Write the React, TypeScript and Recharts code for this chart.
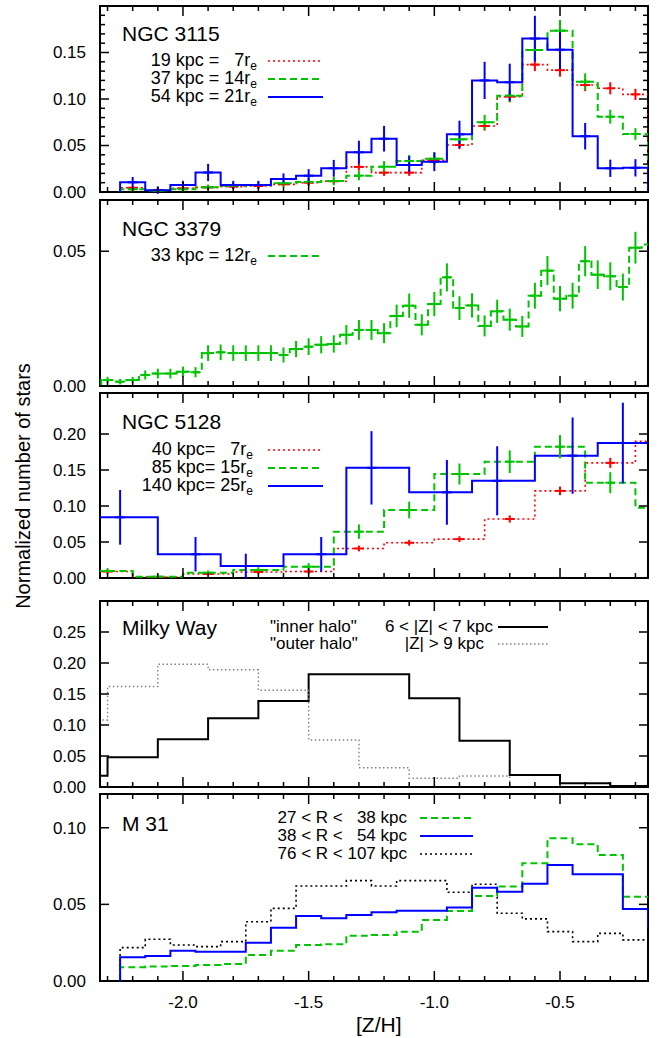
import React from "react";
import { ComposedChart, Line, Scatter, ErrorBar, XAxis, YAxis, ReferenceArea } from "recharts";

// ---- data ----
const X_TICKS = [-2.3, -2.2, -2.1, -2.0, -1.9, -1.8, -1.7, -1.6, -1.5, -1.4, -1.3, -1.2, -1.1, -1.0, -0.9, -0.8, -0.7, -0.6, -0.5, -0.4, -0.3, -0.2];
const X_MAJOR = [-2.0, -1.5, -1.0, -0.5];

// NGC 3115, bins of 0.1
const N3115_Z = [-2.2, -2.1, -2.0, -1.9, -1.8, -1.7, -1.6, -1.5, -1.4, -1.3, -1.2, -1.1, -1.0, -0.9, -0.8, -0.7, -0.6, -0.5, -0.4, -0.3, -0.2];
const N3115_19 = [0.0046, 0.0022, 0.004, 0.005, 0.0057, 0.0064, 0.0082, 0.01, 0.0115, 0.027, 0.0208, 0.0208, 0.034, 0.0505, 0.071, 0.1025, 0.137, 0.131, 0.115, 0.1115, 0.105];
const N3115_19_ERR = [0.002, 0.0015, 0.002, 0.002, 0.002, 0.002, 0.0025, 0.003, 0.003, 0.004, 0.0035, 0.0035, 0.004, 0.0045, 0.005, 0.006, 0.007, 0.007, 0.0065, 0.0065, 0.006];
const N3115_37 = [0.003, 0.0015, 0.003, 0.005, 0.0068, 0.0075, 0.0093, 0.0108, 0.0118, 0.0176, 0.0272, 0.0333, 0.0358, 0.0566, 0.075, 0.1036, 0.1527, 0.1735, 0.1186, 0.081, 0.0624];
const N3115_37_ERR = [0.003, 0.002, 0.003, 0.003, 0.0035, 0.0035, 0.004, 0.004, 0.0045, 0.005, 0.006, 0.0065, 0.0065, 0.007, 0.008, 0.007, 0.011, 0.0116, 0.009, 0.0075, 0.0063];
const N3115_54 = [0.0104, 0.002, 0.0075, 0.021, 0.0075, 0.0075, 0.014, 0.0176, 0.0255, 0.0427, 0.0573, 0.029, 0.0326, 0.062, 0.12, 0.118, 0.165, 0.153, 0.06, 0.0255, 0.026];
const N3115_54_ERR = [0.0057, 0.004, 0.0045, 0.0093, 0.0045, 0.0045, 0.006, 0.007, 0.009, 0.0124, 0.0138, 0.0097, 0.0102, 0.0147, 0.02, 0.02, 0.0245, 0.021, 0.0143, 0.0093, 0.0093];

// NGC 3379, bins of 0.05
const N3379_Z = [-2.3, -2.25, -2.2, -2.15, -2.1, -2.05, -2.0, -1.95, -1.9, -1.85, -1.8, -1.75, -1.7, -1.65, -1.6, -1.55, -1.5, -1.45, -1.4, -1.35, -1.3, -1.25, -1.2, -1.15, -1.1, -1.05, -1.0, -0.95, -0.9, -0.85, -0.8, -0.75, -0.7, -0.65, -0.6, -0.55, -0.5, -0.45, -0.4, -0.35, -0.3, -0.25, -0.2, -0.15];
const N3379_33 = [0.0022, 0.0016, 0.0022, 0.0041, 0.0046, 0.0046, 0.0053, 0.0051, 0.0122, 0.0125, 0.0122, 0.0122, 0.0122, 0.0122, 0.0115, 0.0137, 0.0146, 0.0153, 0.0156, 0.019, 0.0208, 0.0208, 0.0196, 0.026, 0.0298, 0.0227, 0.0304, 0.0403, 0.0289, 0.0299, 0.0223, 0.0277, 0.0246, 0.0221, 0.0335, 0.0428, 0.0324, 0.0335, 0.0463, 0.0413, 0.0407, 0.0367, 0.0513, 0.0525];
const N3379_33_ERR = [0.0012, 0.001, 0.0012, 0.0017, 0.0018, 0.0018, 0.0019, 0.0019, 0.0029, 0.0029, 0.0029, 0.0029, 0.0029, 0.0029, 0.0028, 0.003, 0.0031, 0.0032, 0.0032, 0.0036, 0.0037, 0.0037, 0.0037, 0.0042, 0.0045, 0.0039, 0.0045, 0.0052, 0.0044, 0.0045, 0.0039, 0.0043, 0.0041, 0.0039, 0.0048, 0.0054, 0.0047, 0.0048, 0.0056, 0.0053, 0.0052, 0.005, 0.0059, 0.006];

// NGC 5128, bins of 0.2 (blue: 0.25)
const N5128_Z = [-2.3, -2.1, -1.9, -1.7, -1.5, -1.3, -1.1, -0.9, -0.7, -0.5, -0.3, -0.1];
const N5128_40 = [0.009, 0.0014, 0.0056, 0.0083, 0.009, 0.041, 0.049, 0.054, 0.082, 0.121, 0.16, 0.19];
const N5128_40_ERR = [0.003, 0.001, 0.002, 0.0025, 0.003, 0.004, 0.004, 0.004, 0.005, 0.006, 0.007, 0.008];
const N5128_85 = [0.0097, 0.0019, 0.0074, 0.011, 0.0157, 0.0644, 0.0944, 0.1444, 0.1616, 0.1824, 0.1324, 0.0977];
const N5128_85_ERR = [0.004, 0.002, 0.003, 0.004, 0.005, 0.01, 0.0116, 0.0146, 0.0157, 0.0162, 0.0146, 0.012];
const N5128_140_EDGES = [-2.35, -2.1, -1.85, -1.6, -1.35, -1.1, -0.85, -0.6, -0.35, -0.1];
const N5128_140_Z = [-2.25, -1.95, -1.75, -1.45, -1.25, -0.95, -0.75, -0.45, -0.25];
const N5128_140 = [0.0843, 0.033, 0.0167, 0.033, 0.153, 0.119, 0.135, 0.17, 0.1875];
const N5128_140_ERR = [0.038, 0.024, 0.017, 0.024, 0.051, 0.045, 0.048, 0.053, 0.056];

// Milky Way, bins of 0.2
const MW_Z = [-2.4, -2.2, -2.0, -1.8, -1.6, -1.4, -1.2, -1.0, -0.8, -0.6, -0.4, -0.2];
const MW_INNER = [0.018, 0.048, 0.077, 0.111, 0.1387, 0.1817, 0.1817, 0.143, 0.0747, 0.0194, 0.006, 0.0016];
const MW_OUTER = [0.108, 0.162, 0.198, 0.189, 0.156, 0.0758, 0.031, 0.014, 0.0177];

// M 31, bins of 0.1
const M31_Z = [-2.2, -2.1, -2.0, -1.9, -1.8, -1.7, -1.6, -1.5, -1.4, -1.3, -1.2, -1.1, -1.0, -0.9, -0.8, -0.7, -0.6, -0.5, -0.4, -0.3, -0.2, -0.1];
const M31_27 = [0.009, 0.0094, 0.0098, 0.0104, 0.0111, 0.017, 0.0198, 0.0235, 0.024, 0.0296, 0.03, 0.0322, 0.0398, 0.0457, 0.0555, 0.0616, 0.0768, 0.0931, 0.0892, 0.0822, 0.055, 0.055];
const M31_38 = [0.0155, 0.0163, 0.0198, 0.0191, 0.0191, 0.025, 0.0348, 0.0424, 0.0409, 0.043, 0.0448, 0.0459, 0.0459, 0.0479, 0.0609, 0.0583, 0.0635, 0.0757, 0.0696, 0.0696, 0.047, 0.0354];
const M31_76 = [0.0218, 0.0272, 0.0235, 0.0224, 0.0257, 0.0387, 0.0474, 0.062, 0.062, 0.0655, 0.062, 0.0655, 0.0655, 0.0579, 0.0631, 0.0442, 0.0405, 0.0322, 0.0257, 0.0311, 0.0268, 0.017];

// ---- layout ----
const W = 662;
const XMIN = -2.33;
const XMAX = -0.15;
const PL = 100;
const PR = 648;
const PAD = 4;
const YAXIS_W = 60;
const FONT = '"Liberation Sans", Arial, Helvetica, sans-serif';

const RED = "#ff0000";
const GREEN = "#00c400";
const BLUE = "#0000ff";
const DOTS = "2 3";
const DASH = "7 4";

const edgesOf = (centers: number[], w: number) => [
    ...centers.map((c) => c - w / 2),
    centers[centers.length - 1] + w / 2,
];

// histogram outline for a stepAfter line
const steps = (edges: number[], vals: number[]) => {
    const pts = [{ x: edges[0], y: 0 }];
    vals.forEach((v, i) => pts.push({ x: edges[i], y: v }));
    pts.push({ x: edges[vals.length], y: 0 });
    return pts;
};

const bars = (xs: number[], vals: number[], err: number[]) =>
    xs
        .map((x, i) => ({ x, y: vals[i], e: err[i] }))
        .filter((p) => p.x > XMIN + 1e-6 && p.x < XMAX - 1e-6);

interface Series {
    color: string;
    width: number;
    dash?: string;
    edges: number[];
    vals: number[];
    errX?: number[];
    err?: number[];
}

const near = (list: number[], v: number) => list.some((m) => Math.abs(m - v) < 1e-6);

function Panel({ top, h, ymax, yTicks, yMajor, series, xLabels }: {
    top: number; h: number; ymax: number; yTicks: number[]; yMajor: number[]; series: Series[]; xLabels?: boolean;
}) {
    // room under the frame: tick labels on the last panel, half a label elsewhere
    const xAxisH = xLabels ? 46 : 14;
    const bottom = PAD + h;

    const yTick = (p: any) => {
        const v = p.payload.value;
        const major = near(yMajor, v);
        const len = major ? 9 : 5;
        return (
            <g>
                <line x1={PL} x2={PL + len} y1={p.y} y2={p.y} stroke="#000" strokeWidth={1.5} />
                <line x1={PR - len} x2={PR} y1={p.y} y2={p.y} stroke="#000" strokeWidth={1.5} />
                {major && (
                    <text x={PL - 14} y={p.y} dy="0.35em" textAnchor="end" fontSize={17} fontFamily={FONT} fill="#000">
                        {v.toFixed(2)}
                    </text>
                )}
            </g>
        );
    };

    const xTick = (p: any) => {
        const v = p.payload.value;
        const major = near(X_MAJOR, v);
        const len = major ? 10 : 5;
        return (
            <g>
                <line x1={p.x} x2={p.x} y1={PAD} y2={PAD + len} stroke="#000" strokeWidth={1.5} />
                <line x1={p.x} x2={p.x} y1={bottom - len} y2={bottom} stroke="#000" strokeWidth={1.5} />
                {xLabels && major && (
                    <text x={p.x} y={bottom + 21} dy="0.35em" textAnchor="middle" fontSize={17} fontFamily={FONT} fill="#000">
                        {v.toFixed(1)}
                    </text>
                )}
            </g>
        );
    };

    return (
        <div style={{ position: "absolute", left: 0, top: top - PAD }}>
            <ComposedChart
                width={W}
                height={h + PAD + xAxisH}
                margin={{ top: PAD, right: W - PR, bottom: 0, left: PL - YAXIS_W }}
            >
                <XAxis
                    dataKey="x"
                    type="number"
                    domain={[XMIN, XMAX]}
                    allowDataOverflow
                    ticks={X_TICKS}
                    interval={0}
                    height={xAxisH}
                    axisLine={false}
                    tickLine={false}
                    tick={xTick}
                />
                <YAxis
                    dataKey="y"
                    type="number"
                    domain={[0, ymax]}
                    allowDataOverflow
                    ticks={yTicks}
                    interval={0}
                    width={YAXIS_W}
                    axisLine={false}
                    tickLine={false}
                    tick={yTick}
                />
                {series.map((s, i) => (
                    <Line
                        key={"l" + i}
                        data={steps(s.edges, s.vals)}
                        dataKey="y"
                        type="stepAfter"
                        stroke={s.color}
                        strokeWidth={s.width}
                        strokeDasharray={s.dash}
                        dot={false}
                        activeDot={false}
                        isAnimationActive={false}
                    />
                ))}
                {series.map((s, i) =>
                    s.err && s.errX ? (
                        <Scatter
                            key={"s" + i}
                            data={bars(s.errX, s.vals, s.err)}
                            dataKey="y"
                            isAnimationActive={false}
                            shape={(p: any) => (
                                <path d={`M${p.cx - 5},${p.cy}H${p.cx + 5}`} stroke={s.color} strokeWidth={2} />
                            )}
                        >
                            <ErrorBar dataKey="e" direction="y" width={0} stroke={s.color} strokeWidth={2} />
                        </Scatter>
                    ) : null
                )}
                <ReferenceArea x1={XMIN} x2={XMAX} y1={0} y2={ymax} fill="none" stroke="#000" strokeWidth={2} />
            </ComposedChart>
        </div>
    );
}

const Txt = ({ x, y, size, end, children }: { x: number; y: number; size: number; end?: boolean; children: React.ReactNode }) => (
    <div
        style={{
            position: "absolute",
            left: x,
            top: y - size * 0.42,
            fontSize: size,
            lineHeight: `${Math.round(size * 0.85)}px`,
            whiteSpace: "pre",
            transform: end ? "translateX(-100%)" : undefined,
            fontFamily: FONT,
            color: "#000",
        }}
    >
        {children}
    </div>
);

const Sub = ({ children }: { children: React.ReactNode }) => (
    <span style={{ fontSize: 12, position: "relative", top: 4, lineHeight: "8px" }}>{children}</span>
);

const Sample = ({ x1, x2, y, color, dash, width }: { x1: number; x2: number; y: number; color: string; dash?: string; width: number }) => (
    <svg style={{ position: "absolute", left: x1, top: y - 3 }} width={x2 - x1} height={6}>
        <line x1={0} x2={x2 - x1} y1={3} y2={3} stroke={color} strokeWidth={width} strokeDasharray={dash} />
    </svg>
);

const Y1 = [0, 0.01, 0.02, 0.03, 0.04, 0.05, 0.06, 0.07, 0.08, 0.09, 0.1, 0.11, 0.12, 0.13, 0.14, 0.15, 0.16, 0.17, 0.18, 0.19];

export default function App() {
    const p1: Series[] = [
        { color: RED, width: 1.6, dash: DOTS, edges: edgesOf(N3115_Z, 0.1), vals: N3115_19, errX: N3115_Z, err: N3115_19_ERR },
        { color: GREEN, width: 2, dash: DASH, edges: edgesOf(N3115_Z, 0.1), vals: N3115_37, errX: N3115_Z, err: N3115_37_ERR },
        { color: BLUE, width: 2, edges: edgesOf(N3115_Z, 0.1), vals: N3115_54, errX: N3115_Z, err: N3115_54_ERR },
    ];
    const p2: Series[] = [
        { color: GREEN, width: 2, dash: DASH, edges: edgesOf(N3379_Z, 0.05), vals: N3379_33, errX: N3379_Z, err: N3379_33_ERR },
    ];
    const p3: Series[] = [
        { color: RED, width: 1.6, dash: DOTS, edges: edgesOf(N5128_Z, 0.2), vals: N5128_40, errX: N5128_Z, err: N5128_40_ERR },
        { color: GREEN, width: 2, dash: DASH, edges: edgesOf(N5128_Z, 0.2), vals: N5128_85, errX: N5128_Z, err: N5128_85_ERR },
        { color: BLUE, width: 2, edges: N5128_140_EDGES, vals: N5128_140, errX: N5128_140_Z, err: N5128_140_ERR },
    ];
    const p4: Series[] = [
        { color: "#000", width: 2, edges: edgesOf(MW_Z, 0.2), vals: MW_INNER },
        { color: "#808080", width: 1.4, dash: "1.5 2.5", edges: edgesOf(MW_Z.slice(0, MW_OUTER.length), 0.2), vals: MW_OUTER },
    ];
    const p5: Series[] = [
        { color: "#000", width: 1.6, dash: DOTS, edges: edgesOf(M31_Z, 0.1), vals: M31_76 },
        { color: GREEN, width: 2, dash: DASH, edges: edgesOf(M31_Z, 0.1), vals: M31_27 },
        { color: BLUE, width: 2, edges: edgesOf(M31_Z, 0.1), vals: M31_38 },
    ];

    return (
        <div style={{ position: "absolute", left: 0, top: 0, width: W, height: 1038, background: "#fff", overflow: "hidden", fontFamily: FONT }}>
            <Panel top={6} h={186} ymax={0.2} yTicks={Y1} yMajor={[0, 0.05, 0.1, 0.15]} series={p1} />
            <Panel top={200} h={186} ymax={0.069} yTicks={[0, 0.05]} yMajor={[0, 0.05]} series={p2} />
            <Panel top={393} h={185} ymax={0.257} yTicks={[0, 0.05, 0.1, 0.15, 0.2]} yMajor={[0, 0.05, 0.1, 0.15, 0.2]} series={p3} />
            <Panel top={601} h={186} ymax={0.3} yTicks={[0, 0.05, 0.1, 0.15, 0.2, 0.25]} yMajor={[0, 0.05, 0.1, 0.15, 0.2, 0.25]} series={p4} />
            <Panel top={794} h={187} ymax={0.122} yTicks={[0, 0.05, 0.1]} yMajor={[0, 0.05, 0.1]} series={p5} xLabels />

            {/* NGC 3115 */}
            <Txt x={122} y={34} size={21}>NGC 3115</Txt>
            <Txt x={257} y={61} size={18} end>19 kpc =   7r<Sub>e</Sub></Txt>
            <Txt x={257} y={79} size={18} end>37 kpc = 14r<Sub>e</Sub></Txt>
            <Txt x={257} y={97} size={18} end>54 kpc = 21r<Sub>e</Sub></Txt>
            <Sample x1={268} x2={323} y={61} color={RED} dash={DOTS} width={1.6} />
            <Sample x1={268} x2={323} y={79} color={GREEN} dash={DASH} width={2} />
            <Sample x1={268} x2={323} y={97} color={BLUE} width={2} />

            {/* NGC 3379 */}
            <Txt x={122} y={229} size={21}>NGC 3379</Txt>
            <Txt x={257} y={256} size={18} end>33 kpc = 12r<Sub>e</Sub></Txt>
            <Sample x1={268} x2={323} y={256} color={GREEN} dash={DASH} width={2} />

            {/* NGC 5128 */}
            <Txt x={122} y={422} size={21}>NGC 5128</Txt>
            <Txt x={253} y={450} size={18} end>40 kpc=   7r<Sub>e</Sub></Txt>
            <Txt x={253} y={468} size={18} end>85 kpc= 15r<Sub>e</Sub></Txt>
            <Txt x={253} y={486} size={18} end>140 kpc= 25r<Sub>e</Sub></Txt>
            <Sample x1={268} x2={323} y={450} color={RED} dash={DOTS} width={1.6} />
            <Sample x1={268} x2={323} y={468} color={GREEN} dash={DASH} width={2} />
            <Sample x1={268} x2={323} y={486} color={BLUE} width={2} />

            {/* Milky Way */}
            <Txt x={122} y={628} size={21}>Milky Way</Txt>
            <Txt x={270} y={627} size={17}>"inner halo"</Txt>
            <Txt x={270} y={644} size={17}>"outer halo"</Txt>
            <Txt x={493} y={627} size={17} end>6 &lt; |Z| &lt; 7 kpc</Txt>
            <Txt x={484} y={644} size={17} end>|Z| &gt; 9 kpc</Txt>
            <Sample x1={498} x2={548} y={627} color="#000" width={2} />
            <Sample x1={498} x2={548} y={644} color="#808080" dash="1.5 2.5" width={1.4} />

            {/* M 31 */}
            <Txt x={122} y={824} size={21}>M 31</Txt>
            <Txt x={407} y={818} size={17} end>27 &lt; R &lt;   38 kpc</Txt>
            <Txt x={407} y={836} size={17} end>38 &lt; R &lt;   54 kpc</Txt>
            <Txt x={407} y={854} size={17} end>76 &lt; R &lt; 107 kpc</Txt>
            <Sample x1={420} x2={473} y={818} color={GREEN} dash={DASH} width={2} />
            <Sample x1={420} x2={473} y={836} color={BLUE} width={2} />
            <Sample x1={420} x2={473} y={854} color="#000" dash={DOTS} width={1.6} />

            {/* axis titles */}
            <Txt x={356} y={1025} size={21}>[Z/H]</Txt>
            <div
                style={{
                    position: "absolute",
                    left: 23,
                    top: 486,
                    transform: "translate(-50%, -50%) rotate(-90deg)",
                    whiteSpace: "nowrap",
                    fontSize: 20,
                    fontFamily: FONT,
                    color: "#000",
                }}
            >
                Normalized number of stars
            </div>
        </div>
    );
}
